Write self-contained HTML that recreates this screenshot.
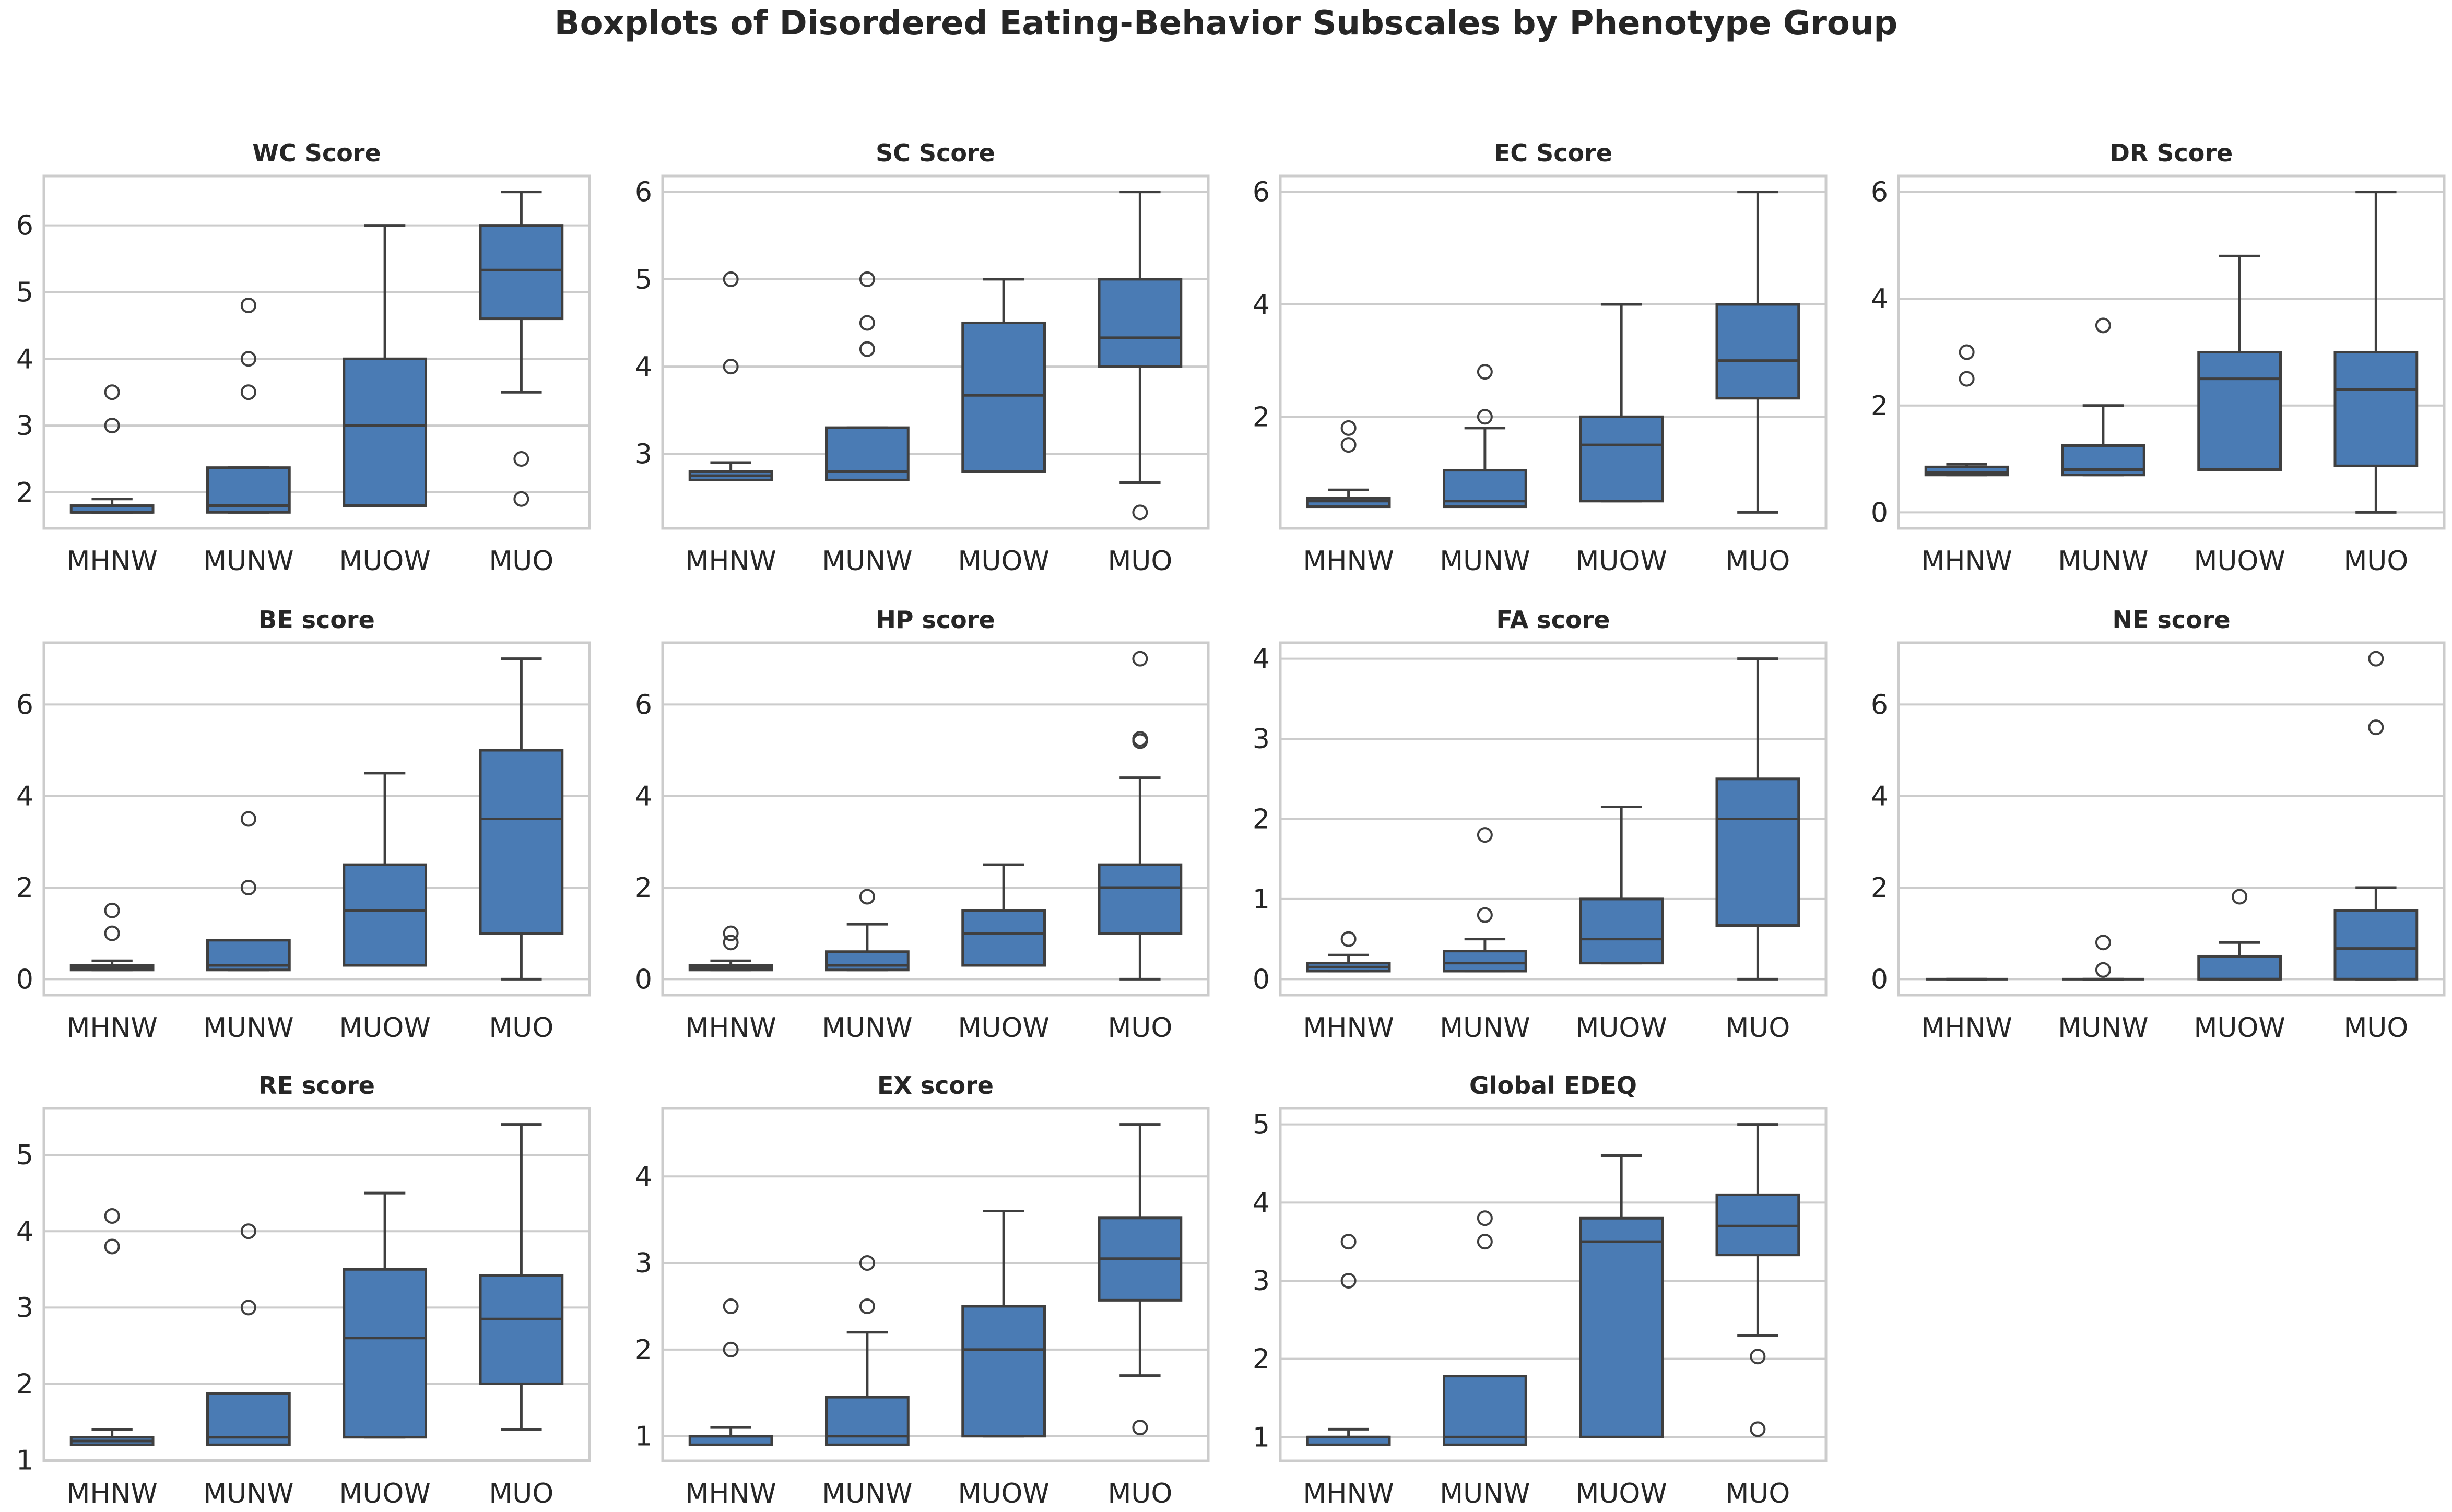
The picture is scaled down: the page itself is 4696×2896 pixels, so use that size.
<!DOCTYPE html>
<html><head><meta charset="utf-8"><style>
html,body{margin:0;padding:0;background:#fff;}
svg{display:block;font-family:"DejaVu Sans","Liberation Sans",sans-serif;}
</style></head><body>
<svg id="fig" width="4696" height="2896" viewBox="0 0 4696 2896" xmlns="http://www.w3.org/2000/svg">
<rect width="4696" height="2896" fill="#fff"/>
<text x="2348" y="66" text-anchor="middle" font-size="64" font-weight="bold" fill="#262626">Boxplots of Disordered Eating-Behavior Subscales by Phenotype Group</text>
</svg>
<script>
const categories = ["MHNW","MUNW","MUOW","MUO"];
const panelTitles = ["WC Score","SC Score","EC Score","DR Score","BE score","HP score","FA score","NE score","RE score","EX score","Global EDEQ"];
const panelTicks = [[2,3,4,5,6],[3,4,5,6],[2,4,6],[0,2,4,6],[0,2,4,6],[0,2,4,6],[0,1,2,3,4],[0,2,4,6],[1,2,3,4,5],[1,2,3,4],[1,2,3,4,5]];
// each box: [whiskerLow, q1, median, q3, whiskerHigh]
const boxStats = [
 [[1.7,1.7,1.7,1.8,1.9],[1.7,1.7,1.8,2.37,2.37],[1.8,1.8,3,4,6],[3.5,4.6,5.33,6,6.5]],
 [[2.7,2.7,2.75,2.8,2.9],[2.7,2.7,2.8,3.3,3.3],[2.8,2.8,3.67,4.5,5],[2.67,4,4.33,5,6]],
 [[0.4,0.4,0.5,0.55,0.7],[0.4,0.4,0.5,1.05,1.8],[0.5,0.5,1.5,2,4],[0.3,2.33,3,4,6]],
 [[0.7,0.7,0.75,0.85,0.9],[0.7,0.7,0.8,1.25,2],[0.8,0.8,2.5,3,4.8],[0,0.87,2.3,3,6]],
 [[0.2,0.2,0.25,0.3,0.4],[0.2,0.2,0.3,0.85,0.85],[0.3,0.3,1.5,2.5,4.5],[0,1,3.5,5,7]],
 [[0.2,0.2,0.25,0.3,0.4],[0.2,0.2,0.3,0.6,1.2],[0.3,0.3,1,1.5,2.5],[0,1,2,2.5,4.4]],
 [[0.1,0.1,0.15,0.2,0.3],[0.1,0.1,0.2,0.35,0.5],[0.2,0.2,0.5,1,2.15],[0,0.67,2,2.5,4]],
 [[0,0,0,0,0],[0,0,0,0,0],[0,0,0,0.5,0.8],[0,0,0.67,1.5,2]],
 [[1.2,1.2,1.25,1.3,1.4],[1.2,1.2,1.3,1.87,1.87],[1.3,1.3,2.6,3.5,4.5],[1.4,2,2.85,3.42,5.4]],
 [[0.9,0.9,1,1,1.1],[0.9,0.9,1,1.45,2.2],[1,1,2,2.5,3.6],[1.7,2.57,3.05,3.52,4.6]],
 [[0.9,0.9,1,1,1.1],[0.9,0.9,1,1.78,1.78],[1,1,3.5,3.8,4.6],[2.3,3.33,3.7,4.1,5]]
];
const outliers = [
 [[3,3.5],[3.5,4,4.8],[],[2.5,1.9]],
 [[4,5],[4.2,4.5,5],[],[2.33]],
 [[1.5,1.8],[2,2.8],[],[]],
 [[2.5,3],[3.5],[],[]],
 [[1,1.5],[2,3.5],[],[]],
 [[0.8,1.0],[1.8],[],[5.2,5.25,7]],
 [[0.5],[0.8,1.8],[],[]],
 [[],[0.2,0.8],[1.8],[5.5,7]],
 [[3.8,4.2],[3,4],[],[]],
 [[2,2.5],[2.5,3],[],[1.1]],
 [[3,3.5],[3.5,3.8],[],[2.03,1.1]]
];
const NS="http://www.w3.org/2000/svg";
const svg=document.getElementById('fig');
const colL=[84,1269,2452,3636], rowT=[337,1231,2123], W=1045, H=675;
function mk(tag,attrs,parent){const e=document.createElementNS(NS,tag);for(const k in attrs)e.setAttribute(k,attrs[k]);parent.appendChild(e);return e;}
panelTitles.forEach((title,p)=>{
  const L=colL[p%4], T=rowT[Math.floor(p/4)];
  const g=mk('g',{},svg);
  
  
  let vals=[];
  boxStats[p].forEach(b=>vals.push(...b));
  outliers[p].forEach(o=>vals.push(...o));
  let mn=Math.min(...vals), mx=Math.max(...vals), r=mx-mn;
  const y0=mn-0.05*r, y1=mx+0.05*r;
  const y=v=>T+H-(v-y0)/(y1-y0)*H;
  const x=i=>L+(i+0.5)*W/4;
  // grid + ticks
  panelTicks[p].forEach(t=>{
    const gl=mk('line',{x1:L,x2:L+W,y1:y(t),y2:y(t),stroke:'#cccccc','stroke-width':4},g);
    
    
    const tl=mk('text',{x:L-20,y:y(t)+18,'text-anchor':'end','font-size':52,fill:'#262626'},g);
    tl.textContent=t;
    
    
  });
  const fr=mk('rect',{x:L,y:T,width:W,height:H,fill:'none',stroke:'#cccccc','stroke-width':5},g);
  
  
  const tt=mk('text',{x:L+W/2,y:T-28,'text-anchor':'middle','font-size':46,'font-weight':'bold',fill:'#262626'},g);
  tt.textContent=title;
  
  
  categories.forEach((c,i)=>{
    const cx=x(i), bw=W/4*0.6;
    const lab=mk('text',{x:cx,y:T+H+80,'text-anchor':'middle','font-size':52,fill:'#262626'},g);
    lab.textContent=c;
    
    
    const [wl,q1,md,q3,wh]=boxStats[p][i];
    const bg=mk('g',{stroke:'#3f3f3f','stroke-width':5},g);
    
    
    mk('line',{x1:cx,x2:cx,y1:y(q3),y2:y(wh)},bg);
    mk('line',{x1:cx,x2:cx,y1:y(q1),y2:y(wl)},bg);
    mk('line',{x1:cx-bw/4,x2:cx+bw/4,y1:y(wh),y2:y(wh)},bg);
    mk('line',{x1:cx-bw/4,x2:cx+bw/4,y1:y(wl),y2:y(wl)},bg);
    mk('rect',{x:cx-bw/2,y:y(q3),width:bw,height:Math.max(0,y(q1)-y(q3)),fill:'#4a7bb4'},bg);
    mk('line',{x1:cx-bw/2,x2:cx+bw/2,y1:y(md),y2:y(md)},bg);
    outliers[p][i].forEach(o=>{
      const ci=mk('circle',{cx:cx,cy:y(o),r:13,fill:'none',stroke:'#3f3f3f','stroke-width':4},g);
      
      
    });
  });
});
</script>
</body></html>
